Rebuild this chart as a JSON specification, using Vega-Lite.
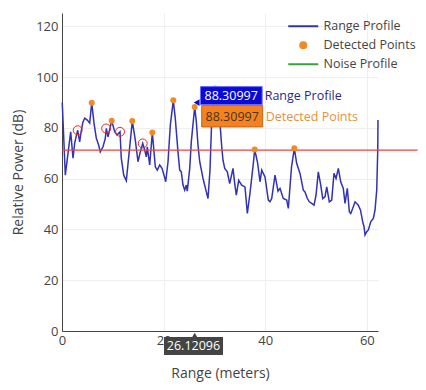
{
  "$schema": "https://vega.github.io/schema/vega-lite/v6.json",
  "autosize": "none",
  "width": 316,
  "height": 318,
  "padding": {"left": 62, "top": 13, "right": 48, "bottom": 59},
  "background": "white",
  "config": {
    "view": {"stroke": null},
    "font": "Open Sans",
    "axis": {
      "domainColor": "#444",
      "domainWidth": 1,
      "ticks": false,
      "gridColor": "#eeeeee",
      "gridWidth": 1,
      "labelColor": "#444",
      "labelFont": "Open Sans",
      "labelFontSize": 13,
      "titleColor": "#444",
      "titleFont": "Open Sans",
      "titleFontSize": 14,
      "titleFontWeight": "normal",
      "labelFlush": false,
      "labelOverlap": false
    }
  },
  "datasets": {
    "profile": [
      {"range": 0.05, "power": 90.0}, {"range": 0.65, "power": 61.4}, {"range": 1.71, "power": 78.5},
      {"range": 2.17, "power": 68.1}, {"range": 2.5, "power": 74.0}, {"range": 2.76, "power": 76.4},
      {"range": 3.09, "power": 79.1}, {"range": 3.48, "power": 74.5}, {"range": 3.74, "power": 78.3},
      {"range": 4.13, "power": 82.4}, {"range": 4.47, "power": 83.9}, {"range": 4.98, "power": 83.1},
      {"range": 5.45, "power": 81.9}, {"range": 5.85, "power": 89.9}, {"range": 6.3, "power": 81.9},
      {"range": 6.75, "power": 76.0}, {"range": 7.22, "power": 73.2}, {"range": 7.54, "power": 70.6},
      {"range": 8.07, "power": 72.6}, {"range": 8.52, "power": 75.9}, {"range": 8.72, "power": 79.8},
      {"range": 9.06, "power": 76.5}, {"range": 9.78, "power": 82.8}, {"range": 10.37, "power": 78.5},
      {"range": 10.83, "power": 77.2}, {"range": 11.42, "power": 78.5}, {"range": 11.67, "power": 68.1},
      {"range": 12.15, "power": 61.4}, {"range": 12.66, "power": 59.2}, {"range": 13.13, "power": 68.6},
      {"range": 13.84, "power": 82.7}, {"range": 14.43, "power": 75.2}, {"range": 14.96, "power": 66.7},
      {"range": 15.41, "power": 70.6}, {"range": 15.89, "power": 73.9}, {"range": 16.28, "power": 71.3},
      {"range": 16.59, "power": 68.6}, {"range": 16.79, "power": 72.6}, {"range": 17.26, "power": 65.4},
      {"range": 17.78, "power": 78.2}, {"range": 18.11, "power": 70.6}, {"range": 18.37, "power": 64.7},
      {"range": 18.76, "power": 63.4}, {"range": 19.23, "power": 65.4}, {"range": 19.69, "power": 64.1},
      {"range": 20.08, "power": 61.4}, {"range": 20.41, "power": 58.8}, {"range": 20.87, "power": 66.7},
      {"range": 21.32, "power": 81.1}, {"range": 21.91, "power": 90.9}, {"range": 22.3, "power": 83.7},
      {"range": 22.83, "power": 70.6}, {"range": 23.17, "power": 63.4}, {"range": 23.48, "power": 62.7},
      {"range": 23.82, "power": 57.5}, {"range": 24.15, "power": 55.5}, {"range": 24.47, "power": 57.5},
      {"range": 24.66, "power": 55.1}, {"range": 25.14, "power": 64.1}, {"range": 25.45, "power": 74.5},
      {"range": 26.12, "power": 88.31}, {"range": 26.44, "power": 82.4}, {"range": 26.77, "power": 73.2},
      {"range": 27.11, "power": 66.7}, {"range": 27.76, "power": 60.1}, {"range": 28.41, "power": 54.8},
      {"range": 28.74, "power": 52.2}, {"range": 29.13, "power": 63.4}, {"range": 29.47, "power": 83.1},
      {"range": 30.12, "power": 95.6}, {"range": 30.51, "power": 90.9}, {"range": 31.1, "power": 81.8},
      {"range": 31.44, "power": 72.6}, {"range": 31.69, "power": 67.3}, {"range": 32.03, "power": 64.1},
      {"range": 32.54, "power": 62.7}, {"range": 33.01, "power": 58.1}, {"range": 33.66, "power": 64.1},
      {"range": 34.0, "power": 58.1}, {"range": 34.31, "power": 53.5}, {"range": 34.78, "power": 59.4},
      {"range": 35.37, "power": 57.5}, {"range": 36.02, "power": 56.8}, {"range": 36.48, "power": 46.3},
      {"range": 37.0, "power": 54.2}, {"range": 37.66, "power": 66.0}, {"range": 37.93, "power": 71.5},
      {"range": 38.48, "power": 66.5}, {"range": 38.98, "power": 58.8}, {"range": 39.31, "power": 63.4},
      {"range": 39.96, "power": 60.7}, {"range": 40.61, "power": 51.6}, {"range": 40.94, "power": 50.9},
      {"range": 41.28, "power": 52.2}, {"range": 41.93, "power": 61.4}, {"range": 42.52, "power": 55.1},
      {"range": 42.91, "power": 56.2}, {"range": 43.56, "power": 52.2}, {"range": 44.23, "power": 51.6},
      {"range": 44.55, "power": 48.3}, {"range": 45.18, "power": 64.7}, {"range": 45.73, "power": 72.0},
      {"range": 46.2, "power": 66.0}, {"range": 46.85, "power": 62.1}, {"range": 47.5, "power": 55.5},
      {"range": 47.83, "power": 54.8}, {"range": 48.29, "power": 52.2}, {"range": 48.68, "power": 50.9},
      {"range": 49.15, "power": 50.3}, {"range": 49.61, "power": 49.6}, {"range": 50.0, "power": 53.5},
      {"range": 50.45, "power": 62.7}, {"range": 50.93, "power": 57.5}, {"range": 51.32, "power": 52.2},
      {"range": 51.77, "power": 52.9}, {"range": 52.11, "power": 56.8}, {"range": 52.62, "power": 50.9},
      {"range": 53.09, "power": 51.6}, {"range": 53.54, "power": 62.1}, {"range": 53.94, "power": 60.1},
      {"range": 54.39, "power": 64.1}, {"range": 54.86, "power": 58.8}, {"range": 55.37, "power": 56.2},
      {"range": 55.71, "power": 50.3}, {"range": 56.16, "power": 56.2}, {"range": 56.56, "power": 47.0},
      {"range": 56.83, "power": 46.3}, {"range": 57.22, "power": 48.3}, {"range": 57.68, "power": 50.9},
      {"range": 58.33, "power": 49.6}, {"range": 58.76, "power": 47.6}, {"range": 59.19, "power": 43.0},
      {"range": 59.45, "power": 41.1}, {"range": 59.65, "power": 37.8}, {"range": 59.98, "power": 39.1},
      {"range": 60.3, "power": 39.8}, {"range": 60.77, "power": 43.0}, {"range": 61.28, "power": 44.4},
      {"range": 61.61, "power": 47.6}, {"range": 61.95, "power": 55.5}, {"range": 62.15, "power": 71.3},
      {"range": 62.2, "power": 83.1}
    ],
    "detected": [
      {"range": 5.85, "power": 89.9}, {"range": 9.78, "power": 82.8}, {"range": 13.84, "power": 82.7},
      {"range": 17.78, "power": 78.2}, {"range": 21.91, "power": 90.9}, {"range": 26.12, "power": 88.31},
      {"range": 30.12, "power": 95.6}, {"range": 37.93, "power": 71.5}, {"range": 45.73, "power": 72.0}
    ],
    "circled": [
      {"range": 3.09, "power": 79.1}, {"range": 8.68, "power": 79.8},
      {"range": 11.42, "power": 78.5}, {"range": 15.89, "power": 73.9}
    ]
  },
  "layer": [
    {
      "data": {"name": "profile"},
      "transform": [{"calculate": "'Range Profile'", "as": "series"}],
      "mark": {"type": "line", "strokeWidth": 1.5, "interpolate": "linear"},
      "encoding": {
        "x": {"field": "range", "type": "quantitative",
              "scale": {"domain": [0, 62.2], "nice": false, "zero": false},
              "axis": {"title": "Range (meters)", "values": [0, 20, 40, 60], "labelPadding": 3, "titlePadding": 19}},
        "y": {"field": "power", "type": "quantitative",
              "scale": {"domain": [0, 125.3], "nice": false},
              "axis": {"title": "Relative Power (dB)", "values": [0, 20, 40, 60, 80, 100, 120], "labelPadding": 4, "titlePadding": 10}},
        "color": {"field": "series", "type": "nominal",
                  "scale": {"domain": ["Range Profile", "Detected Points", "Noise Profile"], "range": ["#3232b4", "#f08a24", "#3ca03c"]},
                  "legend": {
                    "title": null, "orient": "none", "legendX": 235, "legendY": 7, "padding": 0,
                    "symbolSize": 36, "rowPadding": 5, "labelOffset": 14,
                    "labelFont": "Open Sans", "labelFontSize": 12.5, "labelColor": "#444",
                    "encode": {"symbols": {"update": {
                      "shape": {"signal": "datum.value === 'Detected Points' ? 'circle' : 'M-5,0H5'"},
                      "fill": {"signal": "datum.value === 'Detected Points' ? '#f08a24' : 'transparent'"},
                      "stroke": {"signal": "datum.value === 'Detected Points' ? 'transparent' : (datum.value === 'Range Profile' ? '#23238a' : '#3ca03c')"},
                      "strokeWidth": {"value": 2}
                    }}}
                  }}
      }
    },
    {
      "data": {"values": [{"start": 0, "end": 70, "level": 71.3}]},
      "mark": {"type": "rule", "color": "#f04040", "strokeWidth": 1.2},
      "encoding": {
        "x": {"field": "start", "type": "quantitative"},
        "x2": {"field": "end"},
        "y": {"field": "level", "type": "quantitative"}
      }
    },
    {
      "data": {"name": "circled"},
      "mark": {"type": "point", "shape": "circle", "filled": false, "color": "#e82828", "strokeWidth": 1, "size": 80, "opacity": 1},
      "encoding": {
        "x": {"field": "range", "type": "quantitative"},
        "y": {"field": "power", "type": "quantitative"}
      }
    },
    {
      "data": {"name": "detected"},
      "mark": {"type": "point", "shape": "circle", "filled": true, "color": "#f08a24", "size": 36, "opacity": 1},
      "encoding": {
        "x": {"field": "range", "type": "quantitative"},
        "y": {"field": "power", "type": "quantitative"}
      }
    },
    {
      "data": {"values": [{"x": 26.5, "y": 90.0}]},
      "mark": {"type": "point", "shape": "triangle-left", "filled": true, "color": "#0a0ad6", "size": 45, "opacity": 1},
      "encoding": {"x": {"field": "x", "type": "quantitative"}, "y": {"field": "y", "type": "quantitative"}}
    },
    {
      "data": {"values": [{"x1": 27.26, "x2": 39.4, "y1": 89.2, "y2": 96.3}]},
      "mark": {"type": "rect", "fill": "#0a0ad6", "stroke": "#6a6aff", "strokeWidth": 1},
      "encoding": {
        "x": {"field": "x1", "type": "quantitative"}, "x2": {"field": "x2"},
        "y": {"field": "y1", "type": "quantitative"}, "y2": {"field": "y2"}
      }
    },
    {
      "data": {"values": [{"x1": 27.5, "x2": 39.5, "y1": 80.4, "y2": 88.9}]},
      "mark": {"type": "rect", "fill": "#f58220", "stroke": "#b8661a", "strokeWidth": 1},
      "encoding": {
        "x": {"field": "x1", "type": "quantitative"}, "x2": {"field": "x2"},
        "y": {"field": "y1", "type": "quantitative"}, "y2": {"field": "y2"}
      }
    },
    {
      "data": {"values": [{"x": 33.3, "y": 92.6, "label": "88.30997"}]},
      "mark": {"type": "text", "color": "white", "fontSize": 12.5, "font": "Open Sans", "align": "center", "baseline": "middle"},
      "encoding": {"x": {"field": "x", "type": "quantitative"}, "y": {"field": "y", "type": "quantitative"}, "text": {"field": "label"}}
    },
    {
      "data": {"values": [{"x": 33.5, "y": 84.5, "label": "88.30997"}]},
      "mark": {"type": "text", "color": "#4a3520", "fontSize": 12.5, "font": "Open Sans", "align": "center", "baseline": "middle"},
      "encoding": {"x": {"field": "x", "type": "quantitative"}, "y": {"field": "y", "type": "quantitative"}, "text": {"field": "label"}}
    },
    {
      "data": {"values": [{"x": 39.9, "y": 92.6, "label": "Range Profile"}]},
      "mark": {"type": "text", "color": "#2a2a86", "fontSize": 12.5, "font": "Open Sans", "align": "left", "baseline": "middle"},
      "encoding": {"x": {"field": "x", "type": "quantitative"}, "y": {"field": "y", "type": "quantitative"}, "text": {"field": "label"}}
    },
    {
      "data": {"values": [{"x": 40.1, "y": 84.5, "label": "Detected Points"}]},
      "mark": {"type": "text", "color": "#e8913a", "fontSize": 12.5, "font": "Open Sans", "align": "left", "baseline": "middle"},
      "encoding": {"x": {"field": "x", "type": "quantitative"}, "y": {"field": "y", "type": "quantitative"}, "text": {"field": "label"}}
    },
    {
      "data": {"values": [{"x": 26.12, "y": -1.6}]},
      "mark": {"type": "point", "shape": "triangle-up", "filled": true, "color": "#444", "size": 30, "opacity": 1},
      "encoding": {"x": {"field": "x", "type": "quantitative"}, "y": {"field": "y", "type": "quantitative"}}
    },
    {
      "data": {"values": [{"x1": 20.08, "x2": 31.69, "y1": -9.45, "y2": -2.36}]},
      "mark": {"type": "rect", "fill": "#444444"},
      "encoding": {
        "x": {"field": "x1", "type": "quantitative"}, "x2": {"field": "x2"},
        "y": {"field": "y1", "type": "quantitative"}, "y2": {"field": "y2"}
      }
    },
    {
      "data": {"values": [{"x": 25.88, "y": -5.9, "label": "26.12096"}]},
      "mark": {"type": "text", "color": "white", "fontSize": 12.5, "font": "Open Sans", "align": "center", "baseline": "middle"},
      "encoding": {"x": {"field": "x", "type": "quantitative"}, "y": {"field": "y", "type": "quantitative"}, "text": {"field": "label"}}
    }
  ]
}
